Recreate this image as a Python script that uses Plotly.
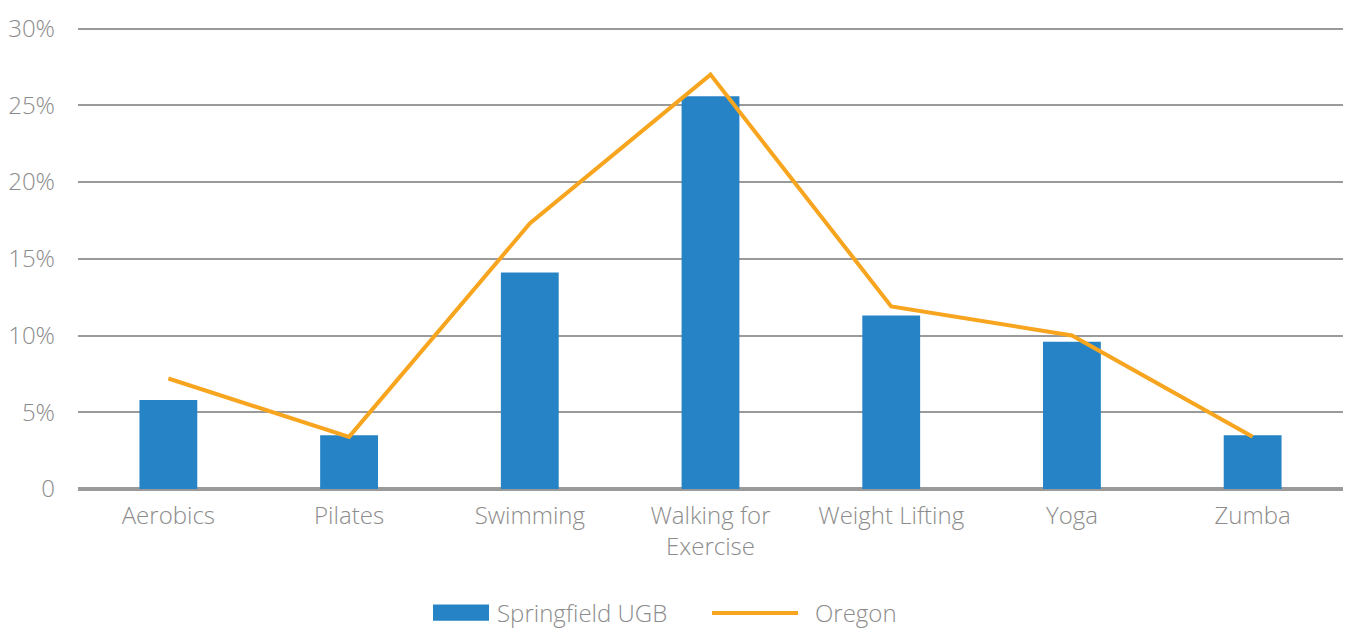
import plotly.graph_objects as go

# Share of residents by preferred exercise activity
categories = ["Aerobics", "Pilates", "Swimming", "Walking for<br>Exercise",
              "Weight Lifting", "Yoga", "Zumba"]
springfield_ugb = [5.8, 3.5, 14.1, 25.6, 11.3, 9.6, 3.5]
oregon = [7.2, 3.4, 17.3, 27.0, 11.9, 10.0, 3.4]

tick_vals = [0, 5, 10, 15, 20, 25, 30]
tick_text = ["0", "5%", "10%", "15%", "20%", "25%", "30%"]

BLUE = "#2683C6"
ORANGE = "#F7A51E"
TEXT = "#8C8C8C"
GRID = "#9A9A9A"
FONT = "'Open Sans', sans-serif"
FW = 300
FS = 24

Y_MAX = 30.3
L, R, B = 78, 1343, 488.6
T = B - (B - 29) * Y_MAX / 30
PW, PH = R - L, B - T


def px_x(x):
    return (x - L) / PW


def px_y(y):
    return (B - y) / PH


fig = go.Figure()
fig.add_trace(go.Bar(
    x=categories, y=springfield_ugb, name="Springfield UGB",
    marker=dict(color=BLUE, line=dict(width=0)), width=0.32,
    showlegend=False,
))
fig.add_trace(go.Scatter(
    x=categories, y=oregon, name="Oregon", mode="lines",
    line=dict(color=ORANGE, width=4), showlegend=False,
))

# Legend drawn below the plot area
fig.add_shape(type="rect", xref="paper", yref="paper",
              x0=px_x(433), x1=px_x(489), y0=px_y(604), y1=px_y(620),
              fillcolor=BLUE, line=dict(width=0))
fig.add_annotation(text="Springfield UGB", xref="paper", yref="paper",
                   x=px_x(495), y=px_y(612),
                   xanchor="left", yanchor="middle", showarrow=False,
                   font=dict(size=FS, color=TEXT, family=FONT, weight=FW))
fig.add_shape(type="line", xref="paper", yref="paper",
              x0=px_x(712), x1=px_x(798), y0=px_y(612.5), y1=px_y(612.5),
              line=dict(color=ORANGE, width=4))
fig.add_annotation(text="Oregon", xref="paper", yref="paper",
                   x=px_x(813), y=px_y(612),
                   xanchor="left", yanchor="middle", showarrow=False,
                   font=dict(size=FS, color=TEXT, family=FONT, weight=FW))

fig.update_layout(
    width=1354, height=629,
    margin=dict(l=L, r=1354 - R, t=T, b=629 - B),
    plot_bgcolor="white", paper_bgcolor="white",
    font=dict(family=FONT, size=FS, color=TEXT, weight=FW),
    bargap=0.68,
)
fig.update_xaxes(
    showgrid=False, showline=False, zeroline=False, automargin=False,
    ticks="", tickfont=dict(size=FS, color=TEXT, family=FONT, weight=FW),
    ticklabelstandoff=10,
)
fig.update_yaxes(
    range=[0, Y_MAX], tickvals=tick_vals, ticktext=tick_text,
    showgrid=True, gridcolor=GRID, gridwidth=2, automargin=False,
    zeroline=True, zerolinecolor=GRID, zerolinewidth=4,
    showline=False, ticks="", ticklabelstandoff=22,
    tickfont=dict(size=FS, color=TEXT, family=FONT, weight=FW),
)

fig.write_html("out.html")
